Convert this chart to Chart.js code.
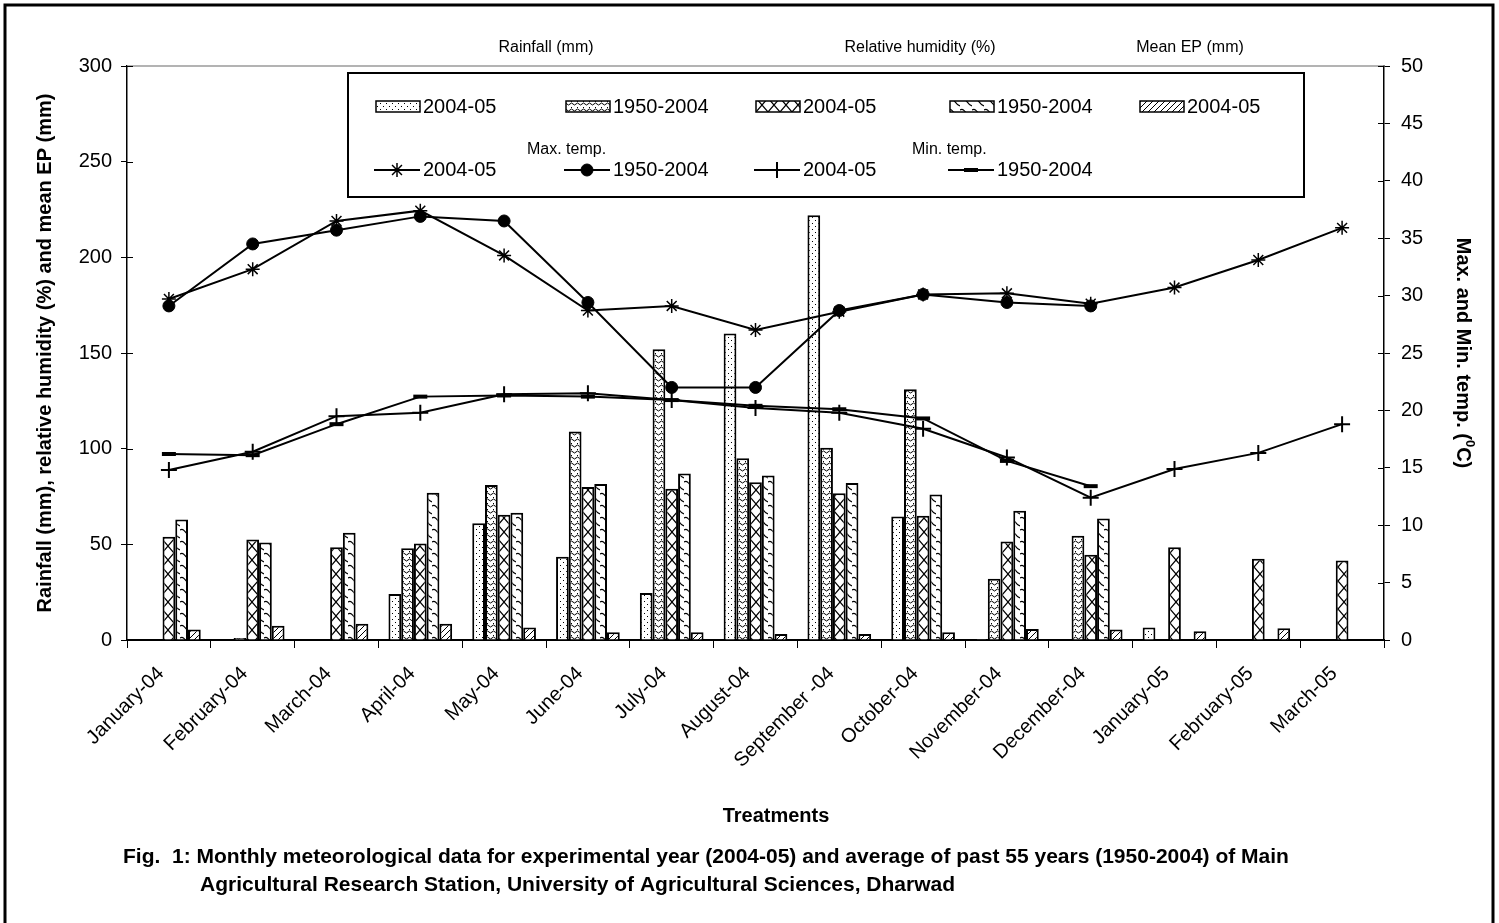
<!DOCTYPE html>
<html>
<head>
<meta charset="utf-8">
<script src="https://cdn.jsdelivr.net/npm/chart.js@4.4.1/dist/chart.umd.min.js"></script>
<style>
  html, body { margin: 0; padding: 0; background: #fff; }
  #wrap { width: 1499px; height: 923px; position: relative; }
</style>
</head>
<body>
<div id="wrap"><canvas id="cv" width="1499" height="923"></canvas></div>
<script>
// --- data ---
const months = ['January-04', 'February-04', 'March-04', 'April-04', 'May-04', 'June-04', 'July-04',
  'August-04', 'September -04', 'October-04', 'November-04', 'December-04', 'January-05', 'February-05', 'March-05'];

const rain0405 = [0, 0, 0, 24, 61, 43.5, 24.5, 160.2, 222, 64.5, 0.5, 0, 6.5, 0, 0];
const rain1950 = [0.3, 1, 0.3, 48, 81, 109, 152, 95, 100.5, 131, 32, 54.5, null, null, null];
const rh0405 = [54, 52.5, 48.5, 50.5, 65.5, 80, 79, 82.5, 76.7, 65, 51.5, 44.5, 48.5, 42.5, 41.5];
const rh1950 = [63, 51, 56, 77, 66.5, 81.5, 87, 86, 82, 76, 67.5, 63.5, null, null, null];
const ep0405 = [5.5, 7.5, 8.5, 8.5, 6.5, 4, 4, 3.2, 3.2, 4, 5.8, 5.5, 4.6, 6.2, null];

const maxT0405 = [29.7, 32.3, 36.5, 37.4, 33.5, 28.7, 29.1, 27.0, 28.6, 30.1, 30.2, 29.3, 30.7, 33.1, 35.9];
const maxT1950 = [29.1, 34.5, 35.7, 36.9, 36.5, 29.4, 22.0, 22.0, 28.7, 30.1, 29.4, 29.1, null, null, null];
const minT0405 = [14.8, 16.4, 19.5, 19.8, 21.4, 21.5, 20.9, 20.2, 19.8, 18.4, 15.9, 12.4, 14.9, 16.3, 18.8];
const minT1950 = [16.2, 16.1, 18.8, 21.2, 21.3, 21.2, 20.9, 20.4, 20.1, 19.3, 15.6, 13.4, null, null, null];

const groupTitles = ['Rainfall (mm)', 'Relative humidity (%)', 'Mean EP (mm)'];
const FONT = "'Liberation Sans', Arial, sans-serif";

const canvas = document.getElementById('cv');
const mainCtx = canvas.getContext('2d');

// hatch fills, drawn on small tiles
function makePattern(w, h, draw) {
  const c = document.createElement('canvas');
  c.width = w; c.height = h;
  const g = c.getContext('2d');
  g.fillStyle = '#fff'; g.fillRect(0, 0, w, h);
  g.strokeStyle = '#000'; g.fillStyle = '#000'; g.lineWidth = 1;
  draw(g, w, h);
  return mainCtx.createPattern(c, 'repeat');
}

const patDots = makePattern(6, 6, g => { g.fillRect(2, 1, 1, 1); g.fillRect(5, 4, 1, 1); });
const patWave = makePattern(6, 6, g => {
  g.beginPath(); g.moveTo(0, 2); g.quadraticCurveTo(1.5, 0, 3, 2); g.quadraticCurveTo(4.5, 4, 6, 2); g.stroke();
  g.fillRect(1, 5, 1, 1);
});
const patCross = makePattern(12, 14, g => {
  g.lineWidth = 1.2;
  g.beginPath(); g.moveTo(0, 0); g.lineTo(12, 14); g.moveTo(12, 0); g.lineTo(0, 14); g.stroke();
});
const patSwirl = makePattern(12, 12, g => {
  g.lineWidth = 1.2;
  g.beginPath(); g.moveTo(0, 2); g.bezierCurveTo(5, -1, 6, 8, 12, 10); g.stroke();
});
const patDiag = makePattern(6, 6, g => {
  g.beginPath(); g.moveTo(0, 6); g.lineTo(6, 0); g.moveTo(-1, 1); g.lineTo(1, -1); g.moveTo(5, 7); g.lineTo(7, 5); g.stroke();
});

function barSet(label, data, fill) {
  return { type: 'bar', label, data, backgroundColor: fill, borderColor: '#000', borderWidth: 2,
    categoryPercentage: 0.76, barPercentage: 1.0, yAxisID: 'y', order: 2 };
}
function lineSet(label, data, style, radius, pbw) {
  return { type: 'line', label, data, yAxisID: 'y1', order: 1, borderColor: '#000', borderWidth: 2,
    backgroundColor: '#000', pointStyle: style, pointRadius: radius, pointBorderWidth: pbw,
    pointBackgroundColor: '#000', pointBorderColor: '#000', fill: false, tension: 0, spanGaps: false };
}

const datasets = [
  barSet('2004-05', rain0405, patDots),
  barSet('1950-2004', rain1950, patWave),
  barSet('2004-05', rh0405, patCross),
  barSet('1950-2004', rh1950, patSwirl),
  barSet('2004-05', ep0405, patDiag),
  lineSet('2004-05', maxT0405, 'star', 7, 1.5),
  lineSet('1950-2004', maxT1950, 'circle', 6, 1),
  lineSet('2004-05', minT0405, 'cross', 8, 2),
  lineSet('1950-2004', minT1950, 'line', 7, 4),
];

const decor = {
  id: 'decor',
  beforeDraw(chart) {
    const c = chart.ctx;
    c.save(); c.fillStyle = '#fff'; c.fillRect(0, 0, chart.width, chart.height); c.restore();
  },
  afterDraw(chart) {
    const c = chart.ctx, a = chart.chartArea;
    const ds = chart.data.datasets;
    c.save();

    // grey top edge of plot area
    c.strokeStyle = '#9a9a9a'; c.lineWidth = 1.5;
    c.beginPath(); c.moveTo(a.left, a.top); c.lineTo(a.right, a.top); c.stroke();

    // inner half of the cross-style ticks
    c.strokeStyle = '#000'; c.lineWidth = 1;
    const yl = chart.scales.y, yr = chart.scales.y1;
    yl.ticks.forEach(t => { const p = Math.round(yl.getPixelForValue(t.value)) + 0.5;
      c.beginPath(); c.moveTo(a.left, p); c.lineTo(a.left + 6, p); c.stroke(); });
    yr.ticks.forEach(t => { const p = Math.round(yr.getPixelForValue(t.value)) + 0.5;
      c.beginPath(); c.moveTo(a.right - 6, p); c.lineTo(a.right, p); c.stroke(); });

    // group titles above the legend
    c.fillStyle = '#000'; c.font = '16px ' + FONT; c.textAlign = 'center'; c.textBaseline = 'middle';
    c.fillText(groupTitles[0], 546, 48);
    c.fillText(groupTitles[1], 920, 48);
    c.fillText(groupTitles[2], 1190, 48);

    // legend box
    c.fillStyle = '#fff'; c.fillRect(348, 73, 956, 124);
    c.strokeStyle = '#000'; c.lineWidth = 2; c.strokeRect(348, 73, 956, 124);
    const cols = [376, 566, 756, 950, 1140];
    c.font = '20px ' + FONT; c.textAlign = 'left'; c.textBaseline = 'middle';
    for (let i = 0; i < 5; i++) {
      const x = cols[i];
      c.fillStyle = ds[i].backgroundColor; c.fillRect(x, 101, 44, 11);
      c.strokeStyle = '#000'; c.lineWidth = 1.5; c.strokeRect(x, 101, 44, 11);
      c.fillStyle = '#000'; c.fillText(ds[i].label, x + 47, 107);
    }
    for (let i = 0; i < 4; i++) {
      const x = cols[i], d = ds[5 + i];
      c.strokeStyle = '#000'; c.lineWidth = 2;
      c.beginPath(); c.moveTo(x - 2, 170); c.lineTo(x + 44, 170); c.stroke();
      c.fillStyle = '#000'; c.lineWidth = d.pointBorderWidth;
      Chart.helpers.drawPoint(c, { pointStyle: d.pointStyle, radius: d.pointRadius, borderWidth: d.pointBorderWidth, rotation: 0 }, x + 21, 170);
      c.fillStyle = '#000'; c.fillText(d.label, x + 47, 170);
    }
    c.font = '16px ' + FONT;
    c.fillText('Max. temp.', 527, 150);
    c.fillText('Min. temp.', 912, 150);

    // axis titles
    c.font = 'bold 20px ' + FONT; c.textAlign = 'center';
    c.save(); c.translate(45, (a.top + a.bottom) / 2); c.rotate(-Math.PI / 2);
    c.fillText('Rainfall (mm), relative humidity (%) and mean EP (mm)', 0, 0); c.restore();

    c.save(); c.translate(1463, (a.top + a.bottom) / 2); c.rotate(Math.PI / 2);
    const p1 = 'Max. and Min. temp. (', p3 = 'C)';
    const w1 = c.measureText(p1).width, w3 = c.measureText(p3).width;
    c.font = 'bold 13px ' + FONT; const w2 = c.measureText('0').width;
    const x0 = -(w1 + w2 + w3) / 2;
    c.textAlign = 'left';
    c.font = 'bold 20px ' + FONT; c.fillText(p1, x0, 0);
    c.font = 'bold 13px ' + FONT; c.fillText('0', x0 + w1, -7);
    c.font = 'bold 20px ' + FONT; c.fillText(p3, x0 + w1 + w2, 0);
    c.restore();

    c.textAlign = 'center';
    c.fillText('Treatments', 776, 816);

    // caption
    c.font = 'bold 21px ' + FONT; c.textAlign = 'left';
    c.fillText('Fig.  1: Monthly meteorological data for experimental year (2004-05) and average of past 55 years (1950-2004) of Main', 123, 857);
    c.fillText('Agricultural Research Station, University of Agricultural Sciences, Dharwad', 200, 885);

    // outer frame
    c.strokeStyle = '#000'; c.lineWidth = 3;
    c.beginPath(); c.moveTo(5, 930); c.lineTo(5, 5); c.lineTo(1493, 5); c.lineTo(1493, 930); c.stroke();
    c.restore();
  }
};

const tickFont = { family: FONT, size: 20 };

new Chart(canvas, {
  data: { labels: months, datasets },
  options: {
    responsive: false,
    animation: false,
    devicePixelRatio: 1,
    layout: { padding: { top: 66, left: 0, right: 0, bottom: 0 } },
    plugins: { legend: { display: false }, tooltip: { enabled: false }, title: { display: false } },
    scales: {
      x: {
        offset: true,
        grid: { offset: true, drawOnChartArea: false, color: '#000', tickLength: 8, lineWidth: 1 },
        border: { color: '#000', width: 2 },
        ticks: { color: '#000', font: tickFont, minRotation: 45, maxRotation: 45, autoSkip: false, padding: 14, labelOffset: -8 },
        afterFit(s) { s.height = 283; }
      },
      y: {
        position: 'left', min: 0, max: 300,
        grid: { drawOnChartArea: false, color: '#000', tickLength: 6 },
        border: { color: '#000', width: 1.5 },
        ticks: { stepSize: 50, color: '#000', font: tickFont, padding: 9 },
        afterFit(s) { s.width = 127; }
      },
      y1: {
        position: 'right', min: 0, max: 50,
        grid: { drawOnChartArea: false, color: '#000', tickLength: 6 },
        border: { color: '#000', width: 1.5 },
        ticks: { stepSize: 5, color: '#000', font: tickFont, padding: 11 },
        afterFit(s) { s.width = 115; }
      }
    }
  },
  plugins: [decor]
});
</script>
</body>
</html>
